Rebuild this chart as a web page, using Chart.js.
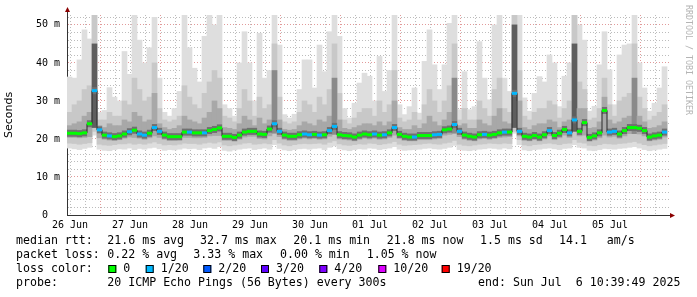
<!DOCTYPE html>
<html><head><meta charset="utf-8">
<script src="https://cdn.jsdelivr.net/npm/chart.js@4/dist/chart.umd.min.js"></script>
<style>html,body{margin:0;padding:0;background:#fff;}canvas{display:block;}</style>
</head><body>
<canvas id="c" width="697" height="297"></canvas>
<script>
// ---- time axis (hours since 26 Jun 00:00) ----
const viewStartHour = 10.8;
const viewEndHour = 251.6;
const columnHours = 2;
const dayLabels = ['26 Jun','27 Jun','28 Jun','29 Jun','30 Jun','01 Jul','02 Jul','03 Jul','04 Jul','05 Jul'];
const yLabelValues = [0, 10, 20, 30, 40, 50];
const yLabelTexts = ['0  ', '10 m', '20 m', '30 m', '40 m', '50 m'];

// ---- median rtt (ms) per 2h column ----
const median = [
21.5,21.5,21.4,21.6,24.0,32.7,22.4,21.0,20.8,20.6,20.8,21.3,21.9,22.3,21.3,21.0,21.5,23.0,22.0,21.0,20.6,20.6,20.6,21.8,
21.8,21.6,21.6,21.6,22.2,22.5,22.9,20.7,20.7,20.4,21.0,21.8,22.0,22.0,21.3,21.2,22.6,24.0,22.0,21.0,20.7,20.7,21.1,21.3,
21.1,21.2,21.0,21.1,22.2,23.3,21.1,20.9,20.8,20.5,21.0,21.3,21.1,21.3,21.0,21.1,21.6,23.0,21.2,20.7,20.5,20.5,20.9,20.9,
20.9,21.1,21.2,22.4,22.6,23.8,22.0,21.0,20.7,20.5,21.1,21.2,21.0,21.2,21.6,21.8,21.8,32.0,22.0,20.7,20.5,20.9,20.5,21.1,
22.2,20.9,21.5,22.5,21.6,25.0,22.0,24.3,20.4,20.8,21.6,27.5,21.8,22.0,21.3,22.2,23.0,23.0,22.8,22.2,20.5,20.8,21.0,21.8];
// lost pings (of 20) per column
const lossCount = [
0,0,0,0,0,1,1,0,1,0,0,0,1,0,1,1,0,1,1,0,0,0,0,0,
1,0,0,1,0,0,0,0,0,0,0,0,0,0,0,0,0,1,1,0,0,0,0,1,
1,0,1,0,1,1,0,0,0,0,0,0,0,1,0,1,0,1,0,0,0,1,0,0,
0,1,1,0,0,1,1,0,0,0,0,1,0,0,0,1,0,1,1,0,0,0,0,0,
1,0,0,0,1,1,0,0,0,0,0,0,1,1,0,0,0,0,0,0,0,0,0,1];
// smoke: highest ping
const smokeMax = [
36.3,36.0,40.8,48.7,46.3,53,27.0,27.5,33.5,31.0,30.0,43.0,37.0,53,46.0,40.0,44.0,52.0,36.0,27.0,26.0,28.0,32.5,53,
44.0,38.6,35.0,47.0,53,50.0,53,29.0,28.0,26.0,40.0,48.2,40.0,30.0,47.8,36.0,38.0,53,44.7,26.4,25.5,26.5,33.0,40.8,
40.8,33.4,44.7,37.7,48.2,53,47.0,28.0,25.5,29.4,34.7,37.3,36.5,30.0,41.7,32.5,38.0,53,29.0,26.4,28.5,33.4,26.8,40.4,
48.7,39.5,33.0,39.5,50.4,53,27.7,37.7,27.7,28.5,45.6,36.0,30.3,50.0,53,36.0,32.5,53,53,30.8,27.3,32.0,36.4,35.0,
42.1,40.0,28.5,36.5,40.0,53,50.0,46.0,27.3,28.6,39.5,48.2,38.2,29.0,42.1,44.7,45.0,53,40.0,33.4,27.3,29.4,33.4,39.0];
// smoke: upper spread
const smokeUpper = [
27,29,30,33,34,53,25,25,27,26,26,30,29,36,33,30,31,40,28,25,24.5,25,26,34,
31,29,28,32,35,38,36,26,25.5,24.5,28,33,30,26,31,28,29,45,31,24.5,24,24.5,27,30,
29,27,31,29,33,45,32,25,24,25.5,27,28,28,26,30,27,29,38,25.5,24.5,25,27,25,29,
33,30,27,30,34,45,25,28,25,25,30,28,26,33,36,28,27,53,38,26,25,27,28,28,
30,29,25.5,28,30,53,35,33,25,25.5,28,36,29,26,30,31,32,45,31,28,25,26,27,29];
// smoke: inner spread
const smokeInner = [
23.5,24,24.5,26,27,45,23.5,23,24,23.5,23.5,25,24.5,27,26,24.5,25,32,24,23,22.5,22.8,23.5,26,
25,24.5,24,25.5,27,30,28,23,22.8,22.5,24,26,25,23.5,25.5,24,25,38,25,22.5,22.3,22.5,23.5,24.5,
24,23.5,25,24.5,26,36,25,22.8,22.5,23,23.5,24,24,23.5,24.5,23.5,24.5,30,23,22.5,22.5,23.5,22.8,24,
26,24.5,23.5,25,27,36,23.5,24,22.8,22.8,25,24,23.5,26,28,24.5,24,50,30,23,22.5,23.5,24,24,
25,24.5,23,24.5,25,45,28,28,22.8,23,24.5,31,25,24,24.5,25.5,26,36,26,24.5,22.8,23,23.5,24.5];
const smokeInnerLow = [
20.4,20.4,20.3,20.4,20.6,23.0,20.3,19.9,19.7,19.6,19.8,20.2,20.5,20.4,20.2,19.9,20.3,20.8,20.4,19.9,19.6,19.6,19.7,20.4,
20.4,20.3,20.3,20.4,20.8,20.9,20.9,19.6,19.6,19.4,19.9,20.5,20.7,20.7,20.1,20.0,20.8,21.5,20.6,19.9,19.6,19.6,20.0,20.2,
20.0,20.1,19.9,20.0,20.7,21.2,20.0,19.8,19.7,19.5,19.9,20.2,20.0,20.2,19.9,20.0,20.4,21.0,20.1,19.6,19.5,19.5,19.8,19.8,
19.8,20.0,20.1,21.0,21.2,21.5,20.6,19.9,19.6,19.5,20.0,20.1,19.9,20.1,20.4,20.5,20.6,23.0,20.8,19.6,19.5,19.8,19.5,20.0,
20.8,19.8,20.3,21.0,20.4,22.0,20.8,21.0,19.4,19.7,20.3,21.0,20.5,20.7,20.2,20.8,21.4,21.4,21.3,20.8,19.5,19.7,19.9,20.5];
const smokeLower = [
18.9,18.8,18.6,18.8,19.0,22.0,18.6,18.4,18.3,18.5,18.7,18.7,18.9,18.6,18.8,18.6,18.9,19.2,18.8,18.4,18.5,18.4,18.6,18.9,
18.8,18.8,18.6,18.9,19.1,18.9,19.2,18.4,18.2,18.4,18.6,18.9,19.0,18.6,18.7,18.9,18.7,19.8,18.9,18.4,18.2,18.5,18.7,18.8,
18.7,18.8,18.9,18.6,19.1,19.5,18.7,18.4,18.3,18.5,18.7,18.6,18.9,18.8,18.5,18.7,18.9,19.3,18.6,18.3,18.4,18.5,18.6,18.8,
18.9,18.7,18.6,18.9,19.1,19.6,18.6,18.3,18.2,18.4,18.6,18.7,18.9,18.8,18.7,18.9,18.8,22.0,19.8,18.4,18.2,18.5,18.6,18.8,
18.9,18.7,18.5,18.8,18.9,19.8,19.1,18.9,18.3,18.2,18.5,18.8,18.7,18.6,18.8,18.9,19.1,19.3,18.9,18.5,18.2,18.4,18.6,18.8];
const smokeMin = [
17.6,17.4,17.2,17.5,17.8,21.0,17.3,17.0,16.9,17.2,17.4,17.3,17.6,17.2,17.5,17.3,17.6,17.8,17.4,17.0,17.2,17.1,17.3,17.6,
17.4,17.5,17.2,17.6,17.8,17.5,18.0,17.0,16.8,17.1,17.3,17.5,17.6,17.2,17.4,17.6,17.3,18.5,17.5,17.1,16.9,17.2,17.4,17.5,
17.3,17.5,17.6,17.2,17.8,18.2,17.4,17.1,16.9,17.2,17.4,17.3,17.6,17.5,17.2,17.4,17.6,18.0,17.3,17.0,17.1,17.2,17.3,17.5,
17.6,17.4,17.3,17.5,17.8,18.3,17.2,17.0,16.9,17.1,17.3,17.4,17.6,17.5,17.3,17.6,17.4,21.5,18.5,17.1,16.9,17.2,17.3,17.5,
17.6,17.4,17.2,17.5,17.6,18.5,17.8,17.6,17.0,16.9,17.2,17.5,17.4,17.3,17.5,17.6,17.8,18.0,17.6,17.2,16.9,17.1,17.3,17.5];

// ---- legend texts ----
const lossLabels = ['0','1/20','2/20','3/20','4/20','10/20','19/20'];
const lossColors = ['#00ff00','#00b8ff','#0059ff','#5e00ff','#7e00ff','#dd00ff','#ff0000'];
const rttHeader = 'median rtt:';
const rttStats = ['21.6 ms avg','32.7 ms max','20.1 ms min','21.8 ms now','1.5 ms sd','14.1','am/s'];
const lossHeader = 'packet loss:';
const lossStats = ['0.22 % avg','3.33 % max','0.00 % min','1.05 % now'];
const colorHeader = 'loss color:';
const probeHeader = 'probe:';
const probeText = '20 ICMP Echo Pings (56 Bytes) every 300s';
const endText = 'end: Sun Jul  6 10:39:49 2025';
const watermark = 'RRDTOOL / TOBI OETIKER';

// ---- build datasets ----
const colX = median.map((_, i) => viewStartHour + columnHours * (i + 0.5));
function band(lo, hi, color, order) {
  return { type: 'bar', order, data: lo.map((v, i) => ({ x: colX[i], y: [v, hi[i]] })),
    backgroundColor: color, borderWidth: 0, barPercentage: 1, categoryPercentage: 1, grouped: false };
}
const medianPts = median.map((v, i) => ({ x: colX[i], y: v }));
const stepPts = median.map((v, i) => ({ x: viewStartHour + columnHours * i, y: v }));
stepPts.push({ x: viewStartHour + columnHours * median.length, y: median[median.length - 1] });

const MONO = '"DejaVu Sans Mono", monospace';

const decor = {
  id: 'decor',
  afterDraw(chart) {
    const ctx = chart.ctx;
    const a = chart.chartArea;
    ctx.save();
    ctx.strokeStyle = '#333'; ctx.lineWidth = 1;
    ctx.beginPath(); ctx.moveTo(a.left + 0.5, a.top); ctx.lineTo(a.left + 0.5, a.top - 5); ctx.stroke();
    ctx.beginPath(); ctx.moveTo(a.right, a.bottom + 0.5); ctx.lineTo(a.right + 3, a.bottom + 0.5); ctx.stroke();
    ctx.fillStyle = '#8b0000';
    ctx.beginPath(); ctx.moveTo(a.left - 2, a.top - 3); ctx.lineTo(a.left + 3, a.top - 3); ctx.lineTo(a.left + 0.5, a.top - 8); ctx.closePath(); ctx.fill();
    ctx.beginPath(); ctx.moveTo(a.right + 1, a.bottom - 2); ctx.lineTo(a.right + 1, a.bottom + 3); ctx.lineTo(a.right + 6, a.bottom + 0.5); ctx.closePath(); ctx.fill();
    ctx.save();
    ctx.translate(688, 5); ctx.rotate(Math.PI / 2);
    ctx.font = '8.3px ' + MONO; ctx.fillStyle = '#b4b4b4'; ctx.textBaseline = 'middle'; ctx.textAlign = 'left';
    ctx.fillText(watermark, 0, 0);
    ctx.restore();
    ctx.font = '11.6px ' + MONO; ctx.fillStyle = '#000'; ctx.textBaseline = 'middle'; ctx.textAlign = 'left';
    const col0 = 16, col1 = 107.3;
    const rttX = [col1, 200, 293.3, 386.7, 480, 559, 606.7];
    ctx.fillText(rttHeader, col0, 241);
    rttStats.forEach((t, i) => ctx.fillText(t, rttX[i], 241));
    const lossX = [col1, 193.3, 280, 366.7];
    ctx.fillText(lossHeader, col0, 255);
    lossStats.forEach((t, i) => ctx.fillText(t, lossX[i], 255));
    ctx.fillText(colorHeader, col0, 269);
    const sqX = [108.3, 145.7, 203.3, 261, 319.3, 378.3, 441.7];
    lossLabels.forEach((t, i) => {
      ctx.fillStyle = lossColors[i]; ctx.fillRect(sqX[i], 265, 8, 8);
      ctx.strokeStyle = '#000'; ctx.lineWidth = 1; ctx.strokeRect(sqX[i] + 0.5, 265.5, 7, 7);
      ctx.fillStyle = '#000'; ctx.fillText(t, sqX[i] + 15, 269);
    });
    ctx.fillText(probeHeader, col0, 283);
    ctx.fillText(probeText, col1, 283);
    ctx.fillText(endText, 478, 283);
    ctx.restore();
  }
};

new Chart(document.getElementById('c'), {
  type: 'bar',
  data: { datasets: [
    { type: 'line', order: 0, data: medianPts, showLine: false, pointStyle: 'line', pointRadius: 2.6,
      pointBorderWidth: 3, pointBackgroundColor: 'rgba(0,0,0,0)',
      pointBorderColor: c => lossColors[lossCount[c.dataIndex] || 0] },
    { type: 'line', order: 1, data: stepPts, stepped: 'before', borderWidth: 1, pointRadius: 0, fill: false,
      borderColor: '#2a2a2a', borderCapStyle: 'butt' },
    { type: 'line', order: 2, data: medianPts, showLine: false, pointStyle: 'line', pointRadius: 2.6,
      pointBorderWidth: 7, pointBorderColor: '#707070', pointBackgroundColor: 'rgba(0,0,0,0)' },
    Object.assign(band(smokeInnerLow, smokeInner, '#a8a8a8', 3), {
      backgroundColor: c => { const r = c.raw && c.raw.y; if (!r) return '#a8a8a8'; const s = r[1] - r[0]; return s > 20 ? '#5e5e5e' : (s > 12 ? '#8a8a8a' : '#a8a8a8'); } }),
    band(smokeLower, smokeUpper, '#c8c8c8', 4),
    band(smokeMin, smokeMax, '#dedede', 5)
  ]},
  options: {
    responsive: false, animation: false, devicePixelRatio: 1, events: [],
    layout: { padding: { left: 0, right: 28, top: 15, bottom: 0 } },
    plugins: { legend: { display: false }, tooltip: { enabled: false }, title: { display: false } },
    scales: {
      x: {
        type: 'linear', position: 'bottom', min: viewStartHour, max: viewEndHour, offset: false, z: 1,
        afterBuildTicks: s => { const t = []; for (let h = 12; h < viewEndHour; h += 6) t.push({ value: h }); s.ticks = t; },
        afterFit: s => { s.height = 82; },
        grid: { offset: false, drawTicks: false, lineWidth: 1,
          color: c => (c.tick && c.tick.value % 24 === 0) ? 'rgba(215,120,120,0.75)' : 'rgba(160,160,160,0.7)' },
        border: { display: true, color: '#333', width: 1, dash: [1, 2] },
        ticks: { autoSkip: false, maxRotation: 0, minRotation: 0, padding: 4, color: '#000',
          font: { family: MONO, size: 10 },
          callback: v => (v % 24 === 12) ? dayLabels[Math.round((v - 12) / 24)] : '' }
      },
      y: {
        type: 'linear', position: 'left', min: 0, max: 52.6, z: 1,
        afterBuildTicks: s => { const t = []; for (let v = 0; v <= 52; v += 2) t.push({ value: v }); s.ticks = t; },
        afterFit: s => { s.width = 67; },
        grid: { drawTicks: false, lineWidth: 1,
          color: c => { const v = c.tick ? c.tick.value : -1; if (v === 0) return 'rgba(0,0,0,0)'; return v % 10 === 0 ? 'rgba(215,120,120,0.75)' : 'rgba(160,160,160,0.7)'; } },
        border: { display: true, color: '#333', width: 1, dash: [1, 2] },
        title: { display: true, text: 'Seconds', color: '#000', padding: { top: 3, bottom: 0 },
          font: { family: '"DejaVu Sans", sans-serif', size: 11 } },
        ticks: { autoSkip: false, padding: 7, color: '#000', font: { family: MONO, size: 10 },
          callback: v => { const k = yLabelValues.indexOf(v); return k >= 0 ? yLabelTexts[k] : ''; } }
      }
    }
  },
  plugins: [decor]
});
</script>
</body></html>
